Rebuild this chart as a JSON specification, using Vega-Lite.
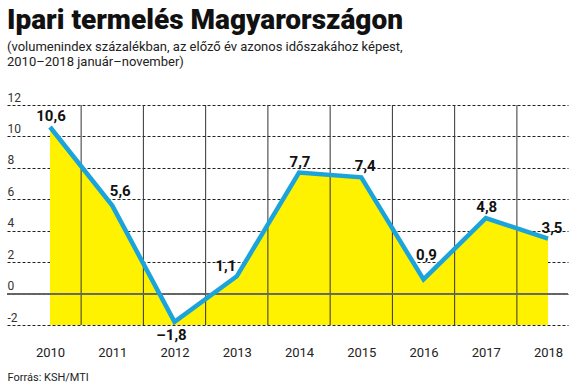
{
  "$schema": "https://vega.github.io/schema/vega-lite/v6.json",
  "width": 561,
  "height": 220,
  "autosize": {"type": "none"},
  "padding": {"left": 7, "right": 8, "top": 105, "bottom": 66},
  "background": "white",
  "title": {
    "text": "Ipari termelés Magyarországon",
    "subtitle": ["(volumenindex százalékban, az előző év azonos időszakához képest,", "2010–2018 január–november)"],
    "anchor": "start",
    "frame": "group",
    "font": "Roboto",
    "fontSize": 28,
    "fontWeight": 900,
    "color": "#111111",
    "subtitleFont": "Roboto",
    "subtitleFontSize": 13,
    "subtitleColor": "#222222",
    "subtitleLineHeight": 15,
    "subtitlePadding": 6,
    "offset": 22
  },
  "datasets": {
    "ipar": [
      {"ev": 2010, "ertek": 10.6},
      {"ev": 2011, "ertek": 5.6},
      {"ev": 2012, "ertek": -1.8},
      {"ev": 2013, "ertek": 1.1},
      {"ev": 2014, "ertek": 7.7},
      {"ev": 2015, "ertek": 7.4},
      {"ev": 2016, "ertek": 0.9},
      {"ev": 2017, "ertek": 4.8},
      {"ev": 2018, "ertek": 3.5}
    ],
    "hatarok": [
      {"ev": 2010.5}, {"ev": 2011.5}, {"ev": 2012.5}, {"ev": 2013.5},
      {"ev": 2014.5}, {"ev": 2015.5}, {"ev": 2016.5}, {"ev": 2017.5}
    ]
  },
  "data": {"name": "ipar"},
  "layer": [
    {
      "mark": {"type": "area", "color": "#FFF200"},
      "encoding": {
        "x": {
          "field": "ev", "type": "quantitative",
          "scale": {"domain": [2009.309, 2018.321], "nice": false, "zero": false},
          "axis": {
            "values": [2010, 2011, 2012, 2013, 2014, 2015, 2016, 2017, 2018],
            "tickCount": 20,
            "format": "d", "grid": false, "domain": false, "ticks": false,
            "labelPadding": 21, "labelFontSize": 13, "labelColor": "#222222",
            "labelFont": "Roboto", "labelFlush": false, "labelOverlap": false,
            "title": "Forrás: KSH/MTI", "titleAnchor": "start", "titleAlign": "left",
            "titleFont": "Roboto", "titleFontSize": 11, "titleFontWeight": "normal",
            "titleColor": "#222222", "titlePadding": 12
          }
        },
        "y": {
          "field": "ertek", "type": "quantitative",
          "scale": {"domain": [-2, 12], "nice": false},
          "axis": {
            "values": [-2, 0, 2, 4, 6, 8, 10, 12],
            "tickCount": 20,
            "format": "d",
            "labelExpr": "replace(datum.label, '–', '-')",
            "title": null, "domain": false, "ticks": false, "labelOverlap": false,
            "grid": true, "gridColor": "#222222", "gridDash": [3, 2], "gridWidth": 1,
            "labelAlign": "left", "labelBaseline": "alphabetic", "labelPadding": 0,
            "labelOffset": -4, "labelFontSize": 12, "labelColor": "#333333",
            "labelFont": "Roboto"
          }
        },
        "y2": {"datum": -2}
      }
    },
    {
      "data": {"name": "hatarok"},
      "mark": {"type": "rule", "color": "#333333", "strokeWidth": 1},
      "encoding": {
        "x": {"field": "ev", "type": "quantitative"},
        "y": {"datum": -2},
        "y2": {"datum": 12}
      }
    },
    {
      "mark": {"type": "rule", "color": "#666666", "strokeWidth": 1.2},
      "encoding": {"y": {"datum": 0}}
    },
    {
      "mark": {"type": "line", "color": "#1BA3DB", "strokeWidth": 4.5, "strokeJoin": "miter"},
      "encoding": {
        "x": {"field": "ev", "type": "quantitative"},
        "y": {"field": "ertek", "type": "quantitative"}
      }
    },
    {
      "transform": [{"filter": "datum.ev == 2010 || datum.ev == 2014 || datum.ev == 2017"}],
      "mark": {"type": "text", "font": "Roboto", "fontSize": 15, "fontWeight": "bold", "color": "#111111", "align": "center", "baseline": "alphabetic", "dx": 1, "dy": -6},
      "encoding": {
        "x": {"field": "ev", "type": "quantitative"},
        "y": {"field": "ertek", "type": "quantitative"},
        "text": {"field": "ertek", "type": "quantitative", "format": ".1f"}
      }
    },
    {
      "transform": [{"filter": "datum.ev == 2015 || datum.ev == 2018"}],
      "mark": {"type": "text", "font": "Roboto", "fontSize": 15, "fontWeight": "bold", "color": "#111111", "align": "center", "baseline": "alphabetic", "dx": 4, "dy": -6},
      "encoding": {
        "x": {"field": "ev", "type": "quantitative"},
        "y": {"field": "ertek", "type": "quantitative"},
        "text": {"field": "ertek", "type": "quantitative", "format": ".1f"}
      }
    },
    {
      "transform": [{"filter": "datum.ev == 2011"}],
      "mark": {"type": "text", "font": "Roboto", "fontSize": 15, "fontWeight": "bold", "color": "#111111", "align": "center", "baseline": "alphabetic", "dx": 8, "dy": -10},
      "encoding": {
        "x": {"field": "ev", "type": "quantitative"},
        "y": {"field": "ertek", "type": "quantitative"},
        "text": {"field": "ertek", "type": "quantitative", "format": ".1f"}
      }
    },
    {
      "transform": [{"filter": "datum.ev == 2012"}],
      "mark": {"type": "text", "font": "Roboto", "fontSize": 15, "fontWeight": "bold", "color": "#111111", "align": "center", "baseline": "alphabetic", "dx": -3, "dy": 18},
      "encoding": {
        "x": {"field": "ev", "type": "quantitative"},
        "y": {"field": "ertek", "type": "quantitative"},
        "text": {"field": "ertek", "type": "quantitative", "format": ".1f"}
      }
    },
    {
      "transform": [{"filter": "datum.ev == 2013"}],
      "mark": {"type": "text", "font": "Roboto", "fontSize": 15, "fontWeight": "bold", "color": "#111111", "align": "center", "baseline": "alphabetic", "dx": -11, "dy": -5},
      "encoding": {
        "x": {"field": "ev", "type": "quantitative"},
        "y": {"field": "ertek", "type": "quantitative"},
        "text": {"field": "ertek", "type": "quantitative", "format": ".1f"}
      }
    },
    {
      "transform": [{"filter": "datum.ev == 2016"}],
      "mark": {"type": "text", "font": "Roboto", "fontSize": 15, "fontWeight": "bold", "color": "#111111", "align": "center", "baseline": "alphabetic", "dx": 3, "dy": -19},
      "encoding": {
        "x": {"field": "ev", "type": "quantitative"},
        "y": {"field": "ertek", "type": "quantitative"},
        "text": {"field": "ertek", "type": "quantitative", "format": ".1f"}
      }
    }
  ],
  "config": {
    "view": {"stroke": null},
    "locale": {
      "number": {"decimal": ",", "thousands": " ", "grouping": [3], "currency": ["", ""], "minus": "–"}
    }
  }
}
